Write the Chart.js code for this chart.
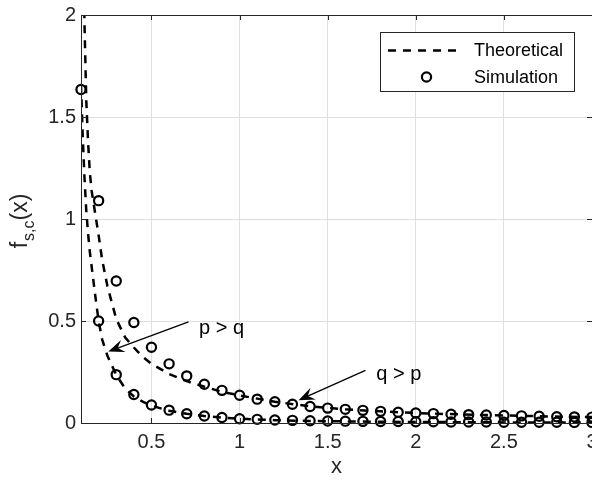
<!DOCTYPE html>
<html>
<head>
<meta charset="utf-8">
<script src="https://cdn.jsdelivr.net/npm/chart.js@4.4.0/dist/chart.umd.min.js"></script>
<style>
  html, body { margin: 0; padding: 0; background: #fff; overflow: hidden; }
  #wrap { width: 592px; height: 482px; overflow: hidden; }
  canvas { display: block; }
</style>
</head>
<body>
<div id="wrap"><canvas id="chart" width="640" height="482"></canvas></div>
<script>
// simulated points, x = 0.1 .. 3.0
const simX = [0.1, 0.2, 0.3, 0.4, 0.5, 0.6, 0.7, 0.8, 0.9, 1.0,
  1.1, 1.2, 1.3, 1.4, 1.5, 1.6, 1.7, 1.8, 1.9, 2.0,
  2.1, 2.2, 2.3, 2.4, 2.5, 2.6, 2.7, 2.8, 2.9, 3.0];
const simUpper = [2.45, 1.09, 0.696, 0.493, 0.371, 0.29, 0.231, 0.19, 0.16, 0.136,
  0.117, 0.104, 0.092, 0.081, 0.073, 0.067, 0.062, 0.057, 0.053, 0.049,
  0.046, 0.043, 0.041, 0.039, 0.037, 0.035, 0.033, 0.031, 0.030, 0.029];
const simLower = [1.635, 0.5, 0.237, 0.14, 0.088, 0.063, 0.045, 0.034, 0.027, 0.021,
  0.018, 0.015, 0.013, 0.011, 0.010, 0.009, 0.008, 0.007, 0.007, 0.006,
  0.006, 0.005, 0.005, 0.005, 0.004, 0.004, 0.004, 0.004, 0.003, 0.003];

// theoretical curves
const theoryX = [0.1, 0.11, 0.12, 0.13, 0.14, 0.15, 0.16, 0.17, 0.18, 0.2,
  0.22, 0.25, 0.3, 0.35, 0.4, 0.45, 0.5, 0.6, 0.7, 0.8,
  0.9, 1.0, 1.2, 1.4, 1.6, 1.8, 2.0, 2.25, 2.5, 2.75, 3.0];
const theoryUpper = [3.2, 2.5, 1.95, 1.58, 1.38, 1.23, 1.14, 1.085, 1.03, 0.92,
  0.8, 0.67, 0.51, 0.42, 0.37, 0.325, 0.29, 0.24, 0.205, 0.178,
  0.153, 0.135, 0.104, 0.082, 0.067, 0.057, 0.049, 0.042, 0.037, 0.032, 0.029];
const theoryLower = [1.66, 1.40, 1.20, 1.04, 0.93, 0.84, 0.77, 0.70, 0.63, 0.50,
  0.41, 0.33, 0.235, 0.17, 0.13, 0.105, 0.085, 0.06, 0.045, 0.034,
  0.026, 0.021, 0.014, 0.010, 0.008, 0.006, 0.005, 0.004, 0.003, 0.003, 0.002];

const xTicks = [0.5, 1, 1.5, 2, 2.5, 3];
const yTicks = [0, 0.5, 1, 1.5, 2];
const seriesNames = ["Theoretical", "Simulation"];

// annotation arrows, in data units
const arrowNotes = [
  { text: "p > q", tail: [0.71, 0.496], head: [0.255, 0.35], at: [0.77, 0.438] },
  { text: "q > p", tail: [1.714, 0.258], head: [1.335, 0.112], at: [1.776, 0.209] }
];

const FONT = "'Liberation Sans', Arial, Helvetica, sans-serif";
const AXIS = "#262626";
Chart.defaults.font.family = FONT;

const pts = (xs, ys) => xs.map((x, i) => ({ x: x, y: ys[i] }));

const lineStyle = {
  showLine: true, borderColor: "#000", borderWidth: 2.5, borderDash: [8, 7],
  pointRadius: 0, fill: false, tension: 0, order: 2
};
const dotStyle = {
  showLine: false, pointRadius: 4.6, pointBorderWidth: 2.2, pointBorderColor: "#000",
  pointBackgroundColor: "rgba(0,0,0,0)", clip: false, order: 1
};

const boxPlugin = {
  id: "matlabBox",
  afterDatasetsDraw(chart) {
    const { ctx, chartArea: a, scales: { x, y } } = chart;
    ctx.save();
    ctx.strokeStyle = AXIS;
    ctx.lineWidth = 1;
    ctx.strokeRect(a.left + 0.5, a.top + 0.5, a.right - a.left, a.bottom - a.top);
    ctx.beginPath();
    const tl = 5;
    xTicks.forEach(v => {
      const px = Math.round(x.getPixelForValue(v)) + 0.5;
      ctx.moveTo(px, a.bottom); ctx.lineTo(px, a.bottom - tl);
      ctx.moveTo(px, a.top); ctx.lineTo(px, a.top + tl);
    });
    yTicks.forEach(v => {
      const py = Math.round(y.getPixelForValue(v)) + 0.5;
      ctx.moveTo(a.left, py); ctx.lineTo(a.left + tl, py);
      ctx.moveTo(a.right, py); ctx.lineTo(a.right - tl, py);
    });
    ctx.stroke();

    // arrows
    ctx.fillStyle = "#000";
    ctx.strokeStyle = "#000";
    ctx.lineWidth = 1.3;
    arrowNotes.forEach(n => {
      const x0 = x.getPixelForValue(n.tail[0]), y0 = y.getPixelForValue(n.tail[1]);
      const x1 = x.getPixelForValue(n.head[0]), y1 = y.getPixelForValue(n.head[1]);
      const ang = Math.atan2(y1 - y0, x1 - x0);
      const hl = 16, hw = 6.5, notch = 10;
      ctx.beginPath();
      ctx.moveTo(x0, y0);
      ctx.lineTo(x1 - notch * Math.cos(ang), y1 - notch * Math.sin(ang));
      ctx.stroke();
      const bx = x1 - hl * Math.cos(ang), by = y1 - hl * Math.sin(ang);
      ctx.beginPath();
      ctx.moveTo(x1, y1);
      ctx.lineTo(bx + hw * Math.sin(ang), by - hw * Math.cos(ang));
      ctx.lineTo(x1 - notch * Math.cos(ang), y1 - notch * Math.sin(ang));
      ctx.lineTo(bx - hw * Math.sin(ang), by + hw * Math.cos(ang));
      ctx.closePath();
      ctx.fill();
      ctx.font = "20px " + FONT;
      ctx.textBaseline = "alphabetic";
      ctx.textAlign = "left";
      ctx.fillText(n.text, x.getPixelForValue(n.at[0]), y.getPixelForValue(n.at[1]));
    });
    ctx.restore();
  },
  afterDraw(chart) {
    const { ctx, chartArea: a } = chart;
    ctx.save();
    // y axis title f_{s,c}(x)
    ctx.fillStyle = AXIS;
    ctx.translate(a.left - 54, (a.top + a.bottom) / 2 + 2);
    ctx.rotate(-Math.PI / 2);
    ctx.textBaseline = "alphabetic";
    ctx.textAlign = "left";
    const big = "23px " + FONT, small = "16px " + FONT;
    ctx.font = big; const w1 = ctx.measureText("f").width + 1;
    ctx.font = small; const w2 = ctx.measureText("s,c").width;
    ctx.font = big; const w3 = ctx.measureText("(x)").width;
    let cx = -(w1 + w2 + w3) / 2;
    ctx.font = big; ctx.fillText("f", cx, 0); cx += w1;
    ctx.font = small; ctx.fillText("s,c", cx, 7); cx += w2;
    ctx.font = big; ctx.fillText("(x)", cx, 0);
    ctx.restore();

    // legend
    ctx.save();
    const lw = 194, lh = 59;
    const lx = a.right - 18 - lw, ly = a.top + 17;
    ctx.fillStyle = "#fff";
    ctx.fillRect(lx, ly, lw, lh);
    ctx.strokeStyle = AXIS;
    ctx.lineWidth = 1;
    ctx.strokeRect(lx + 0.5, ly + 0.5, lw, lh);
    const r1 = ly + 18.5, r2 = ly + 45;
    ctx.strokeStyle = "#000";
    ctx.lineWidth = 2.5;
    ctx.setLineDash([8, 7]);
    ctx.beginPath();
    ctx.moveTo(lx + 8, r1); ctx.lineTo(lx + 80, r1);
    ctx.stroke();
    ctx.setLineDash([]);
    ctx.lineWidth = 2.2;
    ctx.beginPath();
    ctx.arc(lx + 46.5, r2, 4.6, 0, Math.PI * 2);
    ctx.stroke();
    ctx.fillStyle = "#000";
    ctx.font = "18px " + FONT;
    ctx.textBaseline = "middle";
    ctx.fillText(seriesNames[0], lx + 94, r1 + 1);
    ctx.fillText(seriesNames[1], lx + 94, r2 + 1);
    ctx.restore();
  }
};

new Chart(document.getElementById("chart"), {
  type: "scatter",
  data: {
    datasets: [
      Object.assign({ label: seriesNames[0], data: pts(theoryX, theoryUpper) }, lineStyle),
      Object.assign({ label: seriesNames[0], data: pts(theoryX, theoryLower) }, lineStyle),
      Object.assign({ label: seriesNames[1], data: pts(simX, simUpper) }, dotStyle),
      Object.assign({ label: seriesNames[1], data: pts(simX, simLower) }, dotStyle)
    ]
  },
  options: {
    responsive: false,
    animation: false,
    devicePixelRatio: 1,
    layout: { padding: { top: 12, right: 48, left: 0, bottom: 0 } },
    plugins: { legend: { display: false }, tooltip: { enabled: false } },
    scales: {
      x: {
        type: "linear", min: 0.1, max: 3,
        afterBuildTicks: s => { s.ticks = xTicks.map(v => ({ value: v })); },
        afterFit: s => { s.height = 59; },
        grid: { color: "#dfdfdf", drawTicks: false },
        border: { display: false },
        ticks: { color: AXIS, font: { size: 20, lineHeight: 1 }, padding: 9, maxRotation: 0, autoSkip: false, callback: v => String(v) },
        title: { display: true, text: "x", color: AXIS, font: { size: 22 }, padding: { top: 0, bottom: 2 } }
      },
      y: {
        type: "linear", min: 0, max: 2,
        afterBuildTicks: s => { s.ticks = yTicks.map(v => ({ value: v })); },
        afterFit: s => { s.width = 81; },
        grid: { color: "#dfdfdf", drawTicks: false },
        border: { display: false },
        ticks: { color: AXIS, font: { size: 20, lineHeight: 1 }, padding: 5, autoSkip: false, callback: v => String(v) }
      }
    }
  },
  plugins: [boxPlugin]
});
</script>
</body>
</html>
